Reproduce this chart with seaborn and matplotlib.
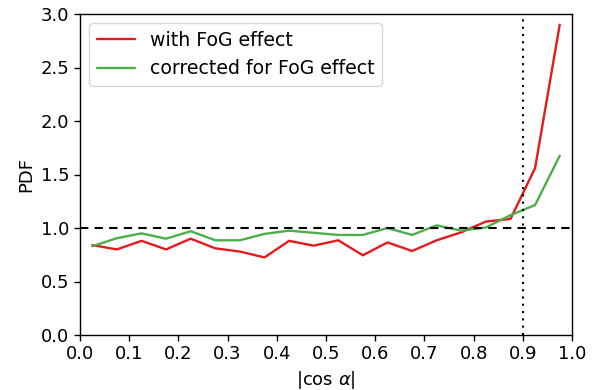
import matplotlib
matplotlib.use("Agg")
import matplotlib.pyplot as plt
import seaborn as sns
import numpy as np
import pandas as pd

bin_centers = [0.025, 0.075, 0.125, 0.175, 0.225, 0.275, 0.325, 0.375, 0.425, 0.475,
               0.525, 0.575, 0.625, 0.675, 0.725, 0.775, 0.825, 0.875, 0.925, 0.975]
pdf_with_fog = [0.84, 0.80, 0.88, 0.80, 0.90, 0.81, 0.78, 0.725, 0.88, 0.835,
                0.885, 0.745, 0.865, 0.785, 0.885, 0.96, 1.06, 1.085, 1.56, 2.90]
pdf_corrected = [0.83, 0.905, 0.95, 0.90, 0.97, 0.885, 0.885, 0.945, 0.975, 0.955,
                 0.935, 0.935, 1.0, 0.935, 1.025, 0.975, 1.005, 1.12, 1.215, 1.675]
labels = ["with FoG effect", "corrected for FoG effect"]

sns.set_style("ticks")
plt.rcParams['font.family'] = ['DejaVu Sans']
plt.rcParams['mathtext.fontset'] = 'dejavusans'
plt.rcParams['text.color'] = 'black'
plt.rcParams['axes.labelcolor'] = 'black'
plt.rcParams['xtick.color'] = 'black'
plt.rcParams['ytick.color'] = 'black'

fig = plt.figure(figsize=(5.96, 3.90), dpi=100)
ax = fig.add_axes([80/596, 1-335/390, (572-80)/596, (335-14)/390])

df = pd.DataFrame({
    "x": bin_centers * 2,
    "pdf": pdf_with_fog + pdf_corrected,
    "series": [labels[0]] * 20 + [labels[1]] * 20,
})
sns.lineplot(data=df, x="x", y="pdf", hue="series", palette=["#e41a1c", "#4daf4a"],
             linewidth=1.7, ax=ax)

ax.axhline(1.0, color="black", linestyle=(0, (4, 3)), linewidth=1.5)
ax.axvline(0.9, color="black", linestyle=(0, (1, 2.5)), linewidth=1.5)

ax.set_xlim(0, 1)
ax.set_ylim(0, 3)
ax.set_xticks(np.arange(0, 1.01, 0.1))
ax.set_yticks(np.arange(0, 3.01, 0.5))
ax.tick_params(labelsize=13, direction="out", length=4, width=1, colors="black")
for s in ax.spines.values():
    s.set_visible(True)
    s.set_color("black")
    s.set_linewidth(1)
ax.set_xlabel(r"|cos $\alpha$|", fontsize=13, color="black")
ax.set_ylabel("PDF", fontsize=13, color="black")
leg = ax.legend(loc="upper left", fontsize=13.6, frameon=True, title=None)
leg.get_frame().set_edgecolor("#cccccc")
for t in leg.get_texts():
    t.set_color("black")

fig.savefig("out.png", dpi=100)
